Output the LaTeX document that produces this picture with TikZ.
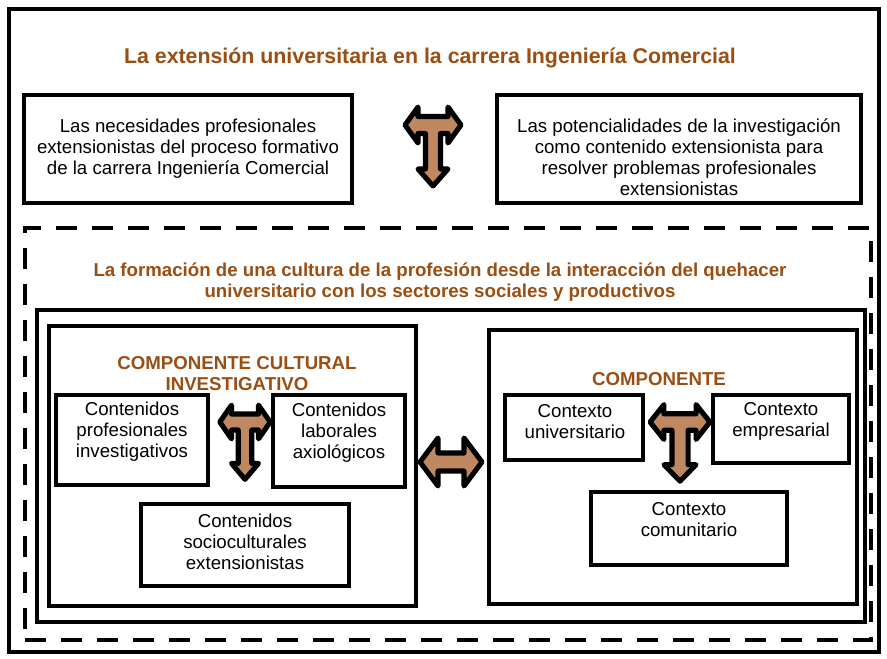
\documentclass[tikz,border=0pt]{standalone}
\usepackage{fontspec}
\setmainfont{Liberation Sans}
\usetikzlibrary{fit}
\definecolor{tbrown}{RGB}{155,78,18}
\definecolor{afill}{RGB}{192,136,96}
\begin{document}
\begin{tikzpicture}[x=0.75pt,y=-0.75pt,
  frame/.style={draw=black, line width=3pt, inner sep=0pt},
  dframe/.style={frame, dash pattern=on 16pt off 11pt},
  txt/.style={align=center, font=\fontsize{14}{15.75}\selectfont, inner sep=0pt},
  ttl/.style={align=center, font=\fontsize{14}{15.75}\selectfont\bfseries, text=tbrown, inner sep=0pt},
  blockarrow/.style={draw=black, line width=3.8pt, fill=afill, line join=round}]
\useasboundingbox (0,0) rectangle (887,658);
\node[frame, fit={(9,9) (879,652)}] (outer) {};
% top boxes
\node[frame, fit={(24,95) (352,203)}] (b1) {};
\node[frame, fit={(497,95) (861,203)}] (b2) {};
\node[ttl, font=\fontsize{16}{18}\selectfont\bfseries] (title) at (430,58) {La extensión universitaria en la carrera Ingeniería Comercial};
\node[txt] (t1) at (188,148.5) {Las necesidades profesionales\\extensionistas del proceso formativo\\de la carrera Ingeniería Comercial};
\node[txt] (t2) at (679,157) {Las potencialidades de la investigación\\como contenido extensionista para\\resolver problemas profesionales\\extensionistas};
% dashed and big frame
\node[dframe, fit={(25,228) (871,640)}] (dash) {};
\node[frame, fit={(37,310) (865,622)}] (big) {};
\node[ttl] (title2) at (440,282.5) {La formación de una cultura de la profesión desde la interacción del quehacer\\universitario con los sectores sociales y productivos};
% components
\node[frame, fit={(49,326) (416,606)}] (compL) {};
\node[frame, fit={(489,330) (857,604)}] (compR) {};
\node[ttl] (compLt) at (237,374) {COMPONENTE CULTURAL\\INVESTIGATIVO};
\node[ttl] (compRt) at (659,379.5) {COMPONENTE};
% inner boxes left
\node[frame, fit={(56,395) (208,485)}] (c1) {};
\node[frame, fit={(273,395) (405,487)}] (c2) {};
\node[frame, fit={(141,504) (349,586)}] (c3) {};
\node[txt] (c1t) at (132,432) {Contenidos\\profesionales\\investigativos};
\node[txt] (c2t) at (339,432.5) {Contenidos\\laborales\\axiológicos};
\node[txt] (c3t) at (245,542) {Contenidos\\socioculturales\\extensionistas};
% inner boxes right
\node[frame, fit={(505,395) (643,460)}] (r1) {};
\node[frame, fit={(713,395) (849,463)}] (r2) {};
\node[frame, fit={(591,492) (787,565)}] (r3) {};
\node[txt] (r1t) at (575,421.5) {Contexto\\universitario};
\node[txt] (r2t) at (781,421.5) {Contexto\\empresarial};
\node[txt] (r3t) at (689,519.5) {Contexto\\comunitario};
% T arrows
\foreach \cx/\cy/\sx/\sy in {433/125/1/1, 245/422/0.9/0.94, 680/422/1.07/0.97}{
  \begin{scope}[shift={(\cx,\cy)}, xscale=\sx, yscale=\sy]
    \draw[blockarrow] (-28,0) -- (-15,-18) -- (-15,-8.5) -- (15,-8.5) -- (15,-18) -- (28,0)
      -- (15,18) -- (15,8.5) -- (7.5,8.5) -- (7.5,44) -- (15,44) -- (0,61) -- (-15,44)
      -- (-7.5,44) -- (-7.5,8.5) -- (-15,8.5) -- (-15,18) -- cycle;
  \end{scope}
}
% double arrow between components
\begin{scope}[shift={(451,462)}]
  \draw[blockarrow] (-31,0) -- (-13,-24) -- (-13,-9) -- (13,-9) -- (13,-24) -- (31,0)
    -- (13,24) -- (13,9) -- (-13,9) -- (-13,24) -- cycle;
\end{scope}
\end{tikzpicture}
\end{document}
